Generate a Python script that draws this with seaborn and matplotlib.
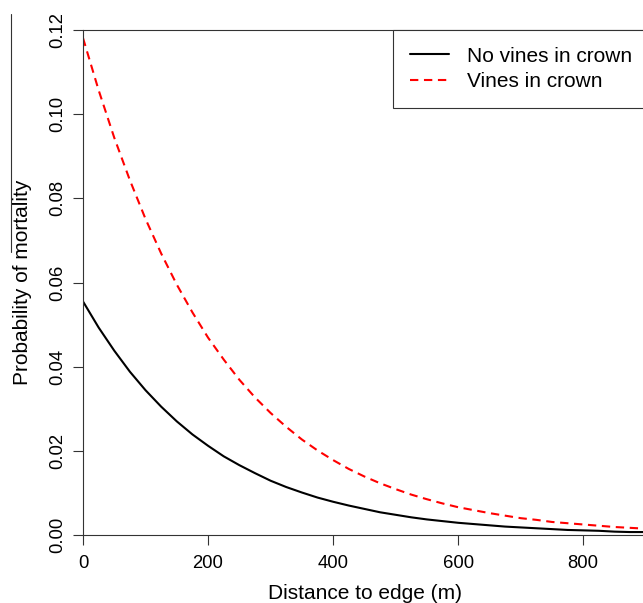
import pandas as pd
import matplotlib.pyplot as plt
import seaborn as sns
from matplotlib.lines import Line2D

# Valores (distancia al borde cada 25 m)
distance = [0, 25, 50, 75, 100, 125, 150, 175, 200, 225, 250, 275, 300, 325, 350, 375,
            400, 425, 450, 475, 500, 525, 550, 575, 600, 625, 650, 675, 700, 725,
            750, 775, 800, 825, 850, 875, 900]
p_no_vines = [0.0555, 0.0493, 0.0438, 0.0388, 0.0344, 0.0305, 0.0270, 0.0239, 0.0212,
              0.0187, 0.0166, 0.0147, 0.0129, 0.0114, 0.0101, 0.0089, 0.0079, 0.0070,
              0.0062, 0.0054, 0.0048, 0.0042, 0.0037, 0.0033, 0.0029, 0.0026, 0.0023,
              0.0020, 0.0018, 0.0016, 0.0014, 0.0012, 0.0011, 0.0010, 0.0008, 0.0007, 0.0007]
p_vines = [0.1181, 0.1057, 0.0944, 0.0843, 0.0751, 0.0669, 0.0595, 0.0529, 0.0469,
           0.0417, 0.0369, 0.0327, 0.0290, 0.0257, 0.0227, 0.0201, 0.0178, 0.0157,
           0.0139, 0.0123, 0.0109, 0.0096, 0.0085, 0.0075, 0.0066, 0.0059, 0.0052,
           0.0046, 0.0040, 0.0036, 0.0031, 0.0028, 0.0025, 0.0022, 0.0019, 0.0017, 0.0015]
groups = ["No vines in crown", "Vines in crown"]
y_ticks = [0.00, 0.02, 0.04, 0.06, 0.08, 0.10, 0.12]
x_ticks = [0, 200, 400, 600, 800]

df = pd.concat([
    pd.DataFrame({"distance": distance, "p": p_no_vines, "group": groups[0]}),
    pd.DataFrame({"distance": distance, "p": p_vines, "group": groups[1]}),
])

sns.set_style("white")
plt.rcParams['font.family'] = ['Liberation Sans', 'DejaVu Sans']
plt.rcParams['text.color'] = 'black'
plt.rcParams['axes.labelcolor'] = 'black'

fig = plt.figure(figsize=(6.43, 6.03), dpi=100)
ax = fig.add_axes([83 / 643, 68 / 603, 564 / 643, 505 / 603])

sns.lineplot(data=df, x="distance", y="p", hue="group", style="group",
             hue_order=groups, style_order=groups,
             palette={groups[0]: "black", groups[1]: "#ff0000"},
             dashes={groups[0]: "", groups[1]: (4, 2.7)},
             linewidth=1.5, ax=ax)

ax.set_xlim(0, 902)
ax.set_ylim(0, 0.12)
ax.set_xticks(x_ticks)
ax.set_yticks(y_ticks)
ax.set_yticklabels([f"{v:.2f}" for v in y_ticks], rotation=90, va="center")

for side in ["left", "bottom", "top"]:
    ax.spines[side].set_color("#333333")
    ax.spines[side].set_linewidth(0.8)
ax.spines["right"].set_visible(False)

ax.tick_params(axis="both", direction="out", length=7.2, width=0.8, color="#333333",
               labelsize=13.3, labelcolor="black")
ax.tick_params(axis="x", pad=7, bottom=True)
ax.tick_params(axis="y", pad=5, left=True)

ax.set_xlabel("Distance to edge (m)", fontsize=15, labelpad=9)
ax.set_ylabel("Probability of mortality", fontsize=15, labelpad=12)

handles, labels = ax.get_legend_handles_labels()
ax.get_legend().remove()
leg = ax.legend(handles, labels, loc="upper left", bbox_to_anchor=((393 - 83) / 564, 1.0),
                borderaxespad=0, frameon=True, fancybox=False, framealpha=1,
                edgecolor="#333333", handlelength=1.9, handletextpad=0.87,
                borderpad=0.8, labelspacing=0.32, fontsize=15)
leg.get_frame().set_linewidth(0.8)

# trozo de línea del panel vecino que queda a la izquierda
fig.add_artist(Line2D([11 / 643, 11 / 643], [1 - 14 / 603, 1 - 252 / 603],
                      color="#333333", lw=0.8))

fig.savefig("out.png", dpi=100)
